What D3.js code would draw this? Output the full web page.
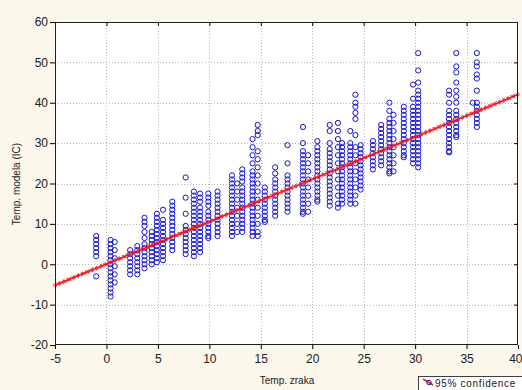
<!DOCTYPE html>
<html lang="en">

<head>
    <meta charset="utf-8">
    <title>Temp. modela vs Temp. zraka</title>
    <script src="https://d3js.org/d3.v7.min.js"></script>
    <style>
        body {
            margin: 0;
            background-color: #fcf8ed;
        }

        svg {
            display: block;
            font-family: "Liberation Sans", Arial, sans-serif;
        }
    </style>
</head>

<body>
    <div id="my-graph"></div>

    <script>

        // x position of each column of observations (Temp. zraka)
        const colX = [-1, 0.4, 0.8, 2.3, 3.0, 3.7, 4.4, 4.9, 5.5, 6.4, 7.7, 8.5, 9.1, 9.9, 10.8,
            12.2, 12.7, 13.2, 14.2, 14.7, 15.4, 16.4, 17.6, 19.1, 19.6, 20.5, 21.7, 22.5, 22.9,
            23.7, 24.2, 24.7, 25.9, 26.7, 27.5, 27.9, 28.9, 29.8, 30.3, 33.3, 34.0, 35.6, 36.0];

        // model temperatures observed in each column (Temp. modela (IC))
        const colY = [
            [7, 6, 5, 4, 3, 2, -3],
            [6, 5, 4, 3, 2, 1, 0, -1, -2, -3, -4, -5, -6, -7, -8],
            [5.5, 3.5, 1.5, -0.5, -2.5, -4.5],
            [3.5, 2.5, 1.5, 0.5, -0.5, -1.5, -2.5],
            [4.5, 3.5, 2.5, 1.5, 0.5, -0.5, -1.5, -2.5],
            [11.5, 10.5, 9.5, 8, 6.5, 5, 4, 3, 2, 1, 0, -1],
            [8, 7, 6, 5, 4, 3, 2, 1, 0],
            [12.5, 11.5, 10.5, 9.5, 8.5, 7.5, 6.5, 5.5, 4.5, 3.5, 2.5, 1.5, 0.5],
            [13.5, 11, 10, 9, 8, 7, 6, 5, 4, 3, 2, 1],
            [15.5, 14.5, 13.5, 12.5, 11.5, 10.5, 9.5, 8.5, 7.5, 6.5, 5.5, 4.5, 3.5],
            [21.5, 16.5, 12.5, 9.5, 8.5, 7.5, 6.5, 5.5, 4.5, 3.5, 2.5],
            [18, 17, 16, 15, 14, 13, 12, 11, 10, 9, 8, 7, 6, 5, 4, 3, 2],
            [17.5, 16.5, 15.5, 14, 13, 12, 11, 10, 9, 8, 7, 6, 5, 4, 3],
            [17.5, 16.5, 15.5, 14.5, 13, 12, 11, 10, 9, 8, 7, 6.5],
            [18, 17, 16, 15, 14, 13, 12, 11, 10, 9, 8, 7],
            [22, 21, 20, 19, 18, 17, 16, 15, 14, 13, 12, 11, 10, 9, 8, 7],
            [20, 18, 16, 14, 12, 10, 8],
            [23.5, 22.5, 21.5, 20.5, 19, 18, 17, 16, 15, 14, 13, 12, 11, 10, 9, 8],
            [31, 29, 27, 25, 23, 22, 21, 20, 19, 18, 17, 16, 15, 14, 13, 12, 11, 10, 9, 8, 7],
            [34.5, 33, 32, 28, 26, 24, 22, 20, 18, 16, 14, 12, 10, 8, 7],
            [19, 18, 17, 16, 15, 14, 13, 12, 11, 10.5],
            [24, 22.5, 21, 20, 19, 18, 17, 16, 15, 14, 13, 12],
            [29.5, 25, 22, 21, 20, 19, 18, 17, 16, 15, 14, 13],
            [34, 30, 28, 27, 26, 25, 24, 23, 22, 21, 20, 19, 18, 17, 16, 15, 14, 13, 12.5],
            [27, 25, 23, 21, 19, 17, 15, 13],
            [30.5, 29, 28, 27, 26, 25, 24, 23, 22, 21, 20, 19, 18, 17, 16, 15.5],
            [34.5, 33, 30, 28.5, 27.5, 26.5, 25.5, 24.5, 23.5, 22.5, 21.5, 20.5, 19.5, 18.5, 17.5, 16.5, 15.5, 14.5],
            [35, 33, 31, 29, 27, 25, 23, 21, 19, 17, 15, 14],
            [30, 29, 28, 27, 26, 25, 24, 23, 22, 21, 20, 19, 18, 17, 16, 15],
            [33, 30, 29, 28, 27, 26, 25, 24, 23, 22, 21, 20, 19, 18, 17, 16, 15],
            [42, 40, 39, 37.5, 36, 32, 29, 27, 25, 23, 21, 19, 17, 15],
            [29.5, 28.5, 27.5, 26.5, 25.5, 24.5, 23.5, 22.5, 21.5, 20.5, 19.5, 18.5],
            [30.5, 29.5, 28.5, 27.5, 26.5, 25.5, 24.5, 23.5],
            [34.5, 33.5, 32.5, 31.5, 30.5, 29.5, 28.5, 27.5, 26.5, 25.5, 24.5],
            [40, 38, 36, 35, 34, 33, 32, 31, 30, 29, 28, 27, 26, 25, 24, 23, 22.5],
            [37, 35, 33, 31, 29, 27, 25, 23],
            [39, 38, 37, 36, 35, 34, 33, 32, 31, 30, 29, 28, 27, 26.5],
            [44.5, 41, 39, 38, 37, 36, 35, 34, 33, 32, 31, 30, 29, 28, 27, 26, 25],
            [52.3, 48, 45, 43, 42, 41, 40, 39, 38, 37, 36, 35, 34, 33, 32, 31, 30, 29, 28, 27, 26, 25, 24],
            [43, 42, 40, 38, 37, 36, 35, 34, 33, 32, 31, 30, 29, 28, 27.7],
            [52.3, 49, 47.5, 45, 43, 41.5, 40, 38, 37, 36, 35, 34, 33, 32, 31.5],
            [40],
            [52.3, 50, 49, 47, 46, 43, 40, 39, 38, 37, 36, 35, 34]
        ];

        // fitted regression line: y = a + b * x, and its 95% band half-width
        const fitA = 0.05, fitB = 1.05, fitBand = 0.45;

        const xTicks = [-5, 0, 5, 10, 15, 20, 25, 30, 35, 40];
        const yTicks = [-20, -10, 0, 10, 20, 30, 40, 50, 60];

        const xTitle = 'Temp. zraka';
        const yTitle = 'Temp. modela (IC)';
        const legendText = '95% confidence';

        const svgWidth = 522, svgHeight = 390;
        const plotLeft = 55, plotRight = 518, plotTop = 22, plotBottom = 345;

        function drawChart() {
            const data = [];
            colX.forEach((x, i) => {
                colY[i].forEach(y => data.push({ x: x, y: y }));
            });

            const svg = d3.select('#my-graph')
                .append('svg')
                .attr('width', svgWidth)
                .attr('height', svgHeight);

            svg.append('rect')
                .attr('width', svgWidth)
                .attr('height', svgHeight)
                .attr('fill', '#fbf7ea');

            const scaleX = d3.scaleLinear().domain([-5, 40]).range([plotLeft, plotRight]);
            const scaleY = d3.scaleLinear().domain([-20, 60]).range([plotBottom, plotTop]);

            svg.append('rect')
                .attr('x', plotLeft)
                .attr('y', plotTop)
                .attr('width', plotRight - plotLeft)
                .attr('height', plotBottom - plotTop)
                .attr('fill', 'white');

            // dotted grid
            const grid = svg.append('g').attr('id', 'grid');
            grid.selectAll('.vgrid')
                .data(xTicks.slice(1, -1))
                .join('line')
                .attr('x1', d => Math.round(scaleX(d)) + 0.5)
                .attr('x2', d => Math.round(scaleX(d)) + 0.5)
                .attr('y1', plotTop)
                .attr('y2', plotBottom)
                .attr('stroke', '#b8b8b8')
                .attr('stroke-dasharray', '1,2');
            grid.selectAll('.hgrid')
                .data(yTicks.slice(1, -1))
                .join('line')
                .attr('y1', d => Math.round(scaleY(d)) + 0.5)
                .attr('y2', d => Math.round(scaleY(d)) + 0.5)
                .attr('x1', plotLeft)
                .attr('x2', plotRight)
                .attr('stroke', '#b8b8b8')
                .attr('stroke-dasharray', '1,2');

            // scatter
            svg.append('g')
                .attr('id', 'points')
                .selectAll('circle')
                .data(data)
                .join('circle')
                .attr('cx', d => scaleX(d.x))
                .attr('cy', d => scaleY(d.y))
                .attr('r', 2.6)
                .attr('fill', 'none')
                .attr('stroke', '#1414c8')
                .attr('stroke-width', 1);

            // regression line with confidence band
            const fitG = svg.append('g').attr('id', 'fit');
            const line = d3.line()
                .x(d => scaleX(d))
                .y(d => scaleY(fitA + fitB * d));
            fitG.append('path')
                .datum([-5, 40])
                .attr('fill', 'none')
                .attr('stroke', '#e8141e')
                .attr('stroke-width', 1.6)
                .attr('d', line);
            [-fitBand, fitBand].forEach(off => {
                fitG.append('path')
                    .datum([-5, 40])
                    .attr('fill', 'none')
                    .attr('stroke', '#f05050')
                    .attr('stroke-width', 1)
                    .attr('stroke-dasharray', '2,2')
                    .attr('d', d3.line()
                        .x(d => scaleX(d))
                        .y(d => scaleY(fitA + fitB * d + off)));
            });
            fitG.selectAll('circle')
                .data(d3.range(-5, 40.01, 0.45))
                .join('circle')
                .attr('cx', d => scaleX(d))
                .attr('cy', d => scaleY(fitA + fitB * d))
                .attr('r', 1.3)
                .attr('fill', 'none')
                .attr('stroke', '#e8141e')
                .attr('stroke-width', 0.8);

            // frame
            svg.append('rect')
                .attr('x', plotLeft + 0.5)
                .attr('y', plotTop + 0.5)
                .attr('width', plotRight - plotLeft - 1)
                .attr('height', plotBottom - plotTop - 1)
                .attr('fill', 'none')
                .attr('stroke', '#202020');

            // axes (plain hyphen for negatives, like the original)
            const fmt = d => String(d);
            const xAxis = d3.axisBottom(scaleX).tickValues(xTicks).tickSize(4).tickSizeOuter(0).tickFormat(fmt);
            const xg = svg.append('g')
                .attr('id', 'xaxis')
                .attr('transform', 'translate(0,' + plotBottom + ')')
                .call(xAxis)
                .call(g => g.select('.domain').remove());
            xg.selectAll('text')
                .attr('dy', '0.9em')
                .style('font-size', '12px')
                .attr('fill', '#202020');
            xg.selectAll('text')
                .filter(d => d === 40)
                .attr('text-anchor', 'end')
                .attr('x', 522 - plotRight);

            const yAxis = d3.axisLeft(scaleY).tickValues(yTicks).tickSize(5).tickSizeOuter(0).tickFormat(fmt);
            svg.append('g')
                .attr('id', 'yaxis')
                .attr('transform', 'translate(' + plotLeft + ',0)')
                .call(yAxis)
                .call(g => g.select('.domain').remove())
                .selectAll('text')
                .attr('x', -7)
                .style('font-size', '12px')
                .attr('fill', '#202020');

            // inner ticks on top and right
            svg.append('g')
                .attr('transform', 'translate(0,' + plotTop + ')')
                .call(d3.axisTop(scaleX).tickValues(xTicks.slice(1, -1)).tickSize(-4).tickFormat(''))
                .call(g => g.select('.domain').remove());
            svg.append('g')
                .attr('transform', 'translate(' + plotRight + ',0)')
                .call(d3.axisRight(scaleY).tickValues(yTicks.slice(1, -1)).tickSize(-4).tickFormat(''))
                .call(g => g.select('.domain').remove());

            // titles
            svg.append('text')
                .attr('x', 287)
                .attr('y', 384)
                .attr('text-anchor', 'middle')
                .style('font-size', '10px')
                .attr('fill', '#202020')
                .text(xTitle);
            svg.append('text')
                .attr('transform', 'translate(20,184) rotate(-90)')
                .attr('text-anchor', 'middle')
                .style('font-size', '10px')
                .attr('fill', '#202020')
                .text(yTitle);

            // legend
            const legendG = svg.append('g').attr('id', 'legend');
            legendG.append('rect')
                .attr('x', 418.5)
                .attr('y', 376.5)
                .attr('width', 110)
                .attr('height', 20)
                .attr('fill', 'white')
                .attr('stroke', '#404040');
            legendG.append('line')
                .attr('x1', 423)
                .attr('y1', 379)
                .attr('x2', 433)
                .attr('y2', 385)
                .attr('stroke', '#e8141e')
                .attr('stroke-width', 1.5);
            legendG.append('circle')
                .attr('cx', 429)
                .attr('cy', 382.5)
                .attr('r', 2.2)
                .attr('fill', 'none')
                .attr('stroke', '#1414c8');
            legendG.append('text')
                .attr('x', 435)
                .attr('y', 387)
                .style('font-size', '10px')
                .style('letter-spacing', '0.7px')
                .attr('fill', '#202020')
                .text(legendText);
        }

        window.onload = function () {
            drawChart();
        }

    </script>
</body>

</html>
